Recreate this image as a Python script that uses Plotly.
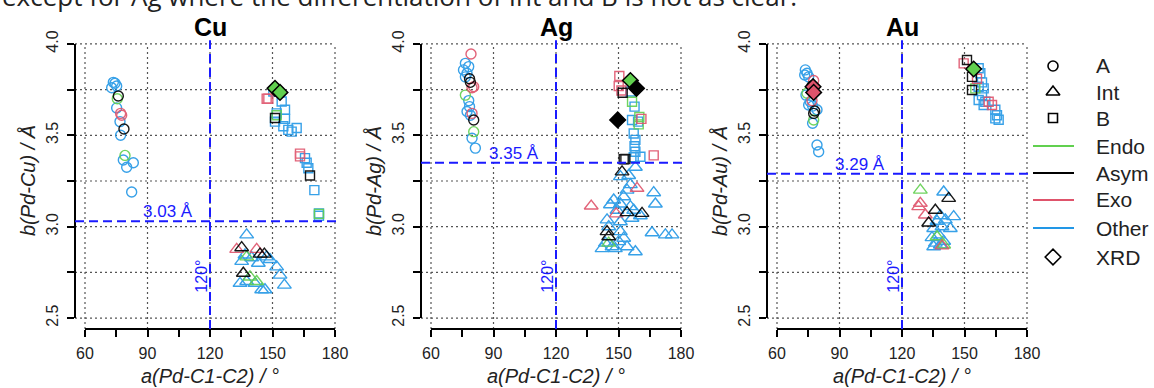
import plotly.graph_objects as go

# ---------------- data ----------------
metals = ["Cu", "Ag", "Au"]
thresholds = [3.03, 3.35, 3.29]
threshold_labels = ["3.03 Å", "3.35 Å", "3.29 Å"]
x_ticks = [60, 90, 120, 150, 180]
y_ticks = [2.5, 3.0, 3.5, 4.0]

# Cu
cu_A_x = [74.4, 73.6, 75.2, 72.8, 76.0, 75.5, 75.2, 77.1, 77.6, 76.8, 78.7, 77.1, 79.2, 78.4, 83.2, 80.0, 82.4]
cu_A_y = [3.785, 3.79, 3.77, 3.76, 3.715, 3.70, 3.65, 3.62, 3.61, 3.575, 3.535, 3.50, 3.39, 3.365, 3.35, 3.325, 3.19]
cu_A_c = ["Other", "Other", "Other", "Other", "Asym", "Endo", "Other", "Exo", "Exo", "Other", "Asym", "Other", "Endo", "Other", "Other", "Other", "Other"]

cu_Int_x = [137.6, 132.8, 135.2, 142.4, 144.0, 146.1, 136.8, 135.2, 137.6, 140.0, 143.2, 147.2, 148.8, 152.0, 153.6, 155.7, 136.0, 139.2, 134.4, 137.6, 142.4, 144.8, 146.4, 141.6]
cu_Int_y = [2.955, 2.876, 2.885, 2.876, 2.85, 2.85, 2.845, 2.81, 2.835, 2.83, 2.80, 2.835, 2.82, 2.78, 2.735, 2.68, 2.745, 2.725, 2.69, 2.70, 2.70, 2.655, 2.655, 2.69]
cu_Int_c = ["Other", "Exo", "Asym", "Exo", "Asym", "Asym", "Other", "Other", "Endo", "Other", "Other", "Other", "Other", "Other", "Other", "Other", "Asym", "Endo", "Other", "Other", "Endo", "Other", "Other", "Other"]

cu_B_x = [148.0, 147.2, 150.4, 154.4, 156.0, 152.0, 151.2, 156.0, 155.2, 159.2, 161.6, 157.6, 152.0, 151.2, 163.2, 163.2, 165.6, 166.4, 167.2, 168.0, 170.1, 172.3, 172.3, 172.3]
cu_B_y = [3.70, 3.70, 3.74, 3.685, 3.64, 3.62, 3.575, 3.59, 3.55, 3.52, 3.54, 3.53, 3.61, 3.595, 3.40, 3.385, 3.375, 3.35, 3.32, 3.28, 3.20, 3.073, 3.07, 3.06]
cu_B_c = ["Exo", "Exo", "Other", "Other", "Other", "Other", "Other", "Other", "Other", "Other", "Other", "Other", "Endo", "Asym", "Exo", "Exo", "Other", "Other", "Other", "Asym", "Other", "Other", "Endo", "Other"]

cu_XRD_x = [151.2, 153.6]
cu_XRD_y = [3.757, 3.735]
cu_XRD_c = ["Endo", "Endo"]

# Ag
ag_A_x = [79.2, 76.5, 78.1, 75.6, 77.3, 76.5, 78.5, 78.9, 80.5, 79.7, 76.5, 78.1, 78.5, 77.3, 78.9, 79.7, 80.5, 80.5, 79.7, 81.3]
ag_A_y = [3.945, 3.894, 3.876, 3.858, 3.84, 3.82, 3.81, 3.79, 3.766, 3.76, 3.72, 3.69, 3.657, 3.63, 3.61, 3.62, 3.584, 3.52, 3.484, 3.43]
ag_A_c = ["Exo", "Other", "Other", "Other", "Other", "Other", "Asym", "Asym", "Exo", "Exo", "Endo", "Other", "Other", "Other", "Other", "Exo", "Asym", "Endo", "Other", "Other"]

ag_Int_x = [158.1, 151.7, 154.9, 150.9, 155.7, 158.9, 154.1, 152.5, 166.9, 167.7, 136.9, 147.7, 146.1, 150.9, 155.7, 154.1, 157.3, 161.3, 160.5, 149.3, 148.9, 156.5, 144.5, 150.9, 166.1, 172.5, 175.7, 145.3, 144.5, 145.3, 150.9, 152.5, 143.7, 145.3, 146.9, 150.1, 154.1, 158.1, 142.1, 148.5]
ag_Int_y = [3.325, 3.30, 3.28, 3.274, 3.23, 3.21, 3.20, 3.164, 3.186, 3.124, 3.113, 3.146, 3.12, 3.124, 3.11, 3.077, 3.09, 3.073, 3.06, 3.09, 3.07, 3.046, 3.037, 3.027, 2.967, 2.955, 2.955, 3.0, 2.973, 2.945, 2.973, 2.937, 2.91, 2.91, 2.89, 2.918, 2.89, 2.863, 2.88, 2.88]
ag_Int_c = ["Other", "Asym", "Other", "Other", "Other", "Exo", "Other", "Other", "Other", "Other", "Exo", "Other", "Other", "Other", "Other", "Asym", "Other", "Asym", "Other", "Other", "Exo", "Other", "Other", "Other", "Other", "Other", "Other", "Other", "Asym", "Asym", "Other", "Other", "Other", "Endo", "Other", "Other", "Other", "Other", "Other", "Other"]

ag_B_x = [150.4, 150.1, 151.4, 152.0, 155.7, 156.5, 157.7, 160.0, 161.0, 156.5, 159.4, 159.7, 157.3, 158.1, 157.7, 158.1, 157.3, 160.5, 166.9, 152.5, 153.3]
ag_B_y = [3.825, 3.77, 3.745, 3.733, 3.74, 3.684, 3.657, 3.60, 3.59, 3.584, 3.575, 3.56, 3.51, 3.475, 3.44, 3.41, 3.38, 3.383, 3.39, 3.369, 3.37]
ag_B_c = ["Exo", "Exo", "Exo", "Asym", "Other", "Endo", "Other", "Endo", "Exo", "Other", "Other", "Endo", "Other", "Other", "Other", "Other", "Other", "Other", "Exo", "Asym", "Asym"]

ag_XRD_x = [155.7, 158.6, 149.6]
ag_XRD_y = [3.80, 3.757, 3.584]
ag_XRD_c = ["Endo", "Asym", "Asym"]

# Au
au_A_x = [73.6, 74.4, 73.3, 75.2, 77.6, 76.8, 74.4, 73.9, 76.0, 76.8, 75.2, 77.1, 78.1, 79.2, 77.6, 77.6, 77.1, 79.2, 80.0]
au_A_y = [3.858, 3.84, 3.83, 3.82, 3.80, 3.77, 3.73, 3.72, 3.684, 3.69, 3.666, 3.66, 3.633, 3.64, 3.62, 3.584, 3.566, 3.447, 3.41]
au_A_c = ["Other", "Other", "Other", "Other", "Exo", "Asym", "Endo", "Other", "Other", "Exo", "Other", "Other", "Asym", "Other", "Asym", "Endo", "Other", "Other", "Other"]

au_Int_x = [128.8, 128.8, 128.0, 131.2, 142.4, 140.0, 136.0, 132.8, 138.4, 140.8, 144.8, 136.8, 139.2, 135.2, 137.6, 134.4, 136.0, 138.4, 135.2, 140.0, 139.2, 140.0, 136.8, 143.2]
au_Int_y = [3.20, 3.128, 3.11, 3.064, 3.155, 3.19, 3.09, 3.02, 3.06, 3.037, 3.055, 3.03, 3.0, 2.99, 2.955, 2.94, 2.91, 2.90, 2.89, 2.92, 2.895, 2.90, 2.945, 2.99]
au_Int_c = ["Endo", "Exo", "Exo", "Exo", "Asym", "Other", "Asym", "Asym", "Other", "Other", "Other", "Other", "Other", "Other", "Other", "Other", "Other", "Other", "Other", "Other", "Exo", "Endo", "Endo", "Other"]

au_B_x = [151.2, 149.6, 156.8, 157.6, 153.6, 156.0, 158.4, 156.8, 155.2, 153.6, 159.2, 158.4, 156.8, 160.0, 161.6, 159.2, 163.2, 164.8, 165.6, 164.8, 166.4]
au_B_y = [3.912, 3.894, 3.867, 3.84, 3.82, 3.81, 3.79, 3.766, 3.757, 3.748, 3.757, 3.72, 3.693, 3.684, 3.684, 3.666, 3.666, 3.64, 3.61, 3.593, 3.585]
au_B_c = ["Asym", "Exo", "Other", "Other", "Asym", "Exo", "Other", "Other", "Endo", "Asym", "Other", "Other", "Other", "Other", "Exo", "Other", "Exo", "Other", "Other", "Other", "Other"]

au_XRD_x = [77.3, 77.6, 154.4]
au_XRD_y = [3.766, 3.735, 3.863]
au_XRD_c = ["Exo", "Exo", "Endo"]

legend_labels = ["A", "Int", "B", "Endo", "Asym", "Exo", "Other", "XRD"]

# ---------------- style ----------------
COLORS = {"Endo": "#61D04F", "Asym": "#000000", "Exo": "#DF536B", "Other": "#2297E6"}
CAT_ORDER = ["Other", "Endo", "Exo", "Asym"]
FONT = "Liberation Sans, Arial, Helvetica, sans-serif"
W, H = 1154, 388
panel_left = [75, 421, 767]
panel_w = 270
top_px, bot_px = 33, 329
xr = [55.2, 184.8]
yr = [2.44, 4.06]

panels = [
    {"A": (cu_A_x, cu_A_y, cu_A_c), "Int": (cu_Int_x, cu_Int_y, cu_Int_c),
     "B": (cu_B_x, cu_B_y, cu_B_c), "XRD": (cu_XRD_x, cu_XRD_y, cu_XRD_c)},
    {"A": (ag_A_x, ag_A_y, ag_A_c), "Int": (ag_Int_x, ag_Int_y, ag_Int_c),
     "B": (ag_B_x, ag_B_y, ag_B_c), "XRD": (ag_XRD_x, ag_XRD_y, ag_XRD_c)},
    {"A": (au_A_x, au_A_y, au_A_c), "Int": (au_Int_x, au_Int_y, au_Int_c),
     "B": (au_B_x, au_B_y, au_B_c), "XRD": (au_XRD_x, au_XRD_y, au_XRD_c)},
]
SYMBOLS = {"A": ("circle-open", 10), "Int": ("triangle-up-open", 12), "B": ("square-open", 9)}

fig = go.Figure()
shapes = []
annotations = []

def py(px):
    return (H - px) / H

for i, (metal, pdata) in enumerate(zip(metals, panels)):
    n = "" if i == 0 else str(i + 1)
    xa, ya = "x" + n, "y" + n
    for shape in ["A", "Int", "B"]:
        xs, ys, cs = pdata[shape]
        sym, size = SYMBOLS[shape]
        for cat in CAT_ORDER:
            px_ = [x for x, c in zip(xs, cs) if c == cat]
            py_ = [y for y, c in zip(ys, cs) if c == cat]
            if not px_:
                continue
            fig.add_trace(go.Scatter(
                x=px_, y=py_, mode="markers", xaxis=xa, yaxis=ya, showlegend=False,
                opacity=0.9,
                marker=dict(symbol=sym, size=size, color=COLORS[cat],
                            line=dict(width=1.4, color=COLORS[cat]))))
    xs, ys, cs = pdata["XRD"]
    fig.add_trace(go.Scatter(
        x=xs, y=ys, mode="markers", xaxis=xa, yaxis=ya, showlegend=False,
        marker=dict(symbol="diamond", size=12, color=[COLORS[c] for c in cs],
                    line=dict(width=1.5, color="black"))))

    dom = [panel_left[i] / W, (panel_left[i] + panel_w) / W]
    ydom = [py(bot_px), py(top_px)]
    axis_common = dict(ticks="outside", ticklen=7, tickwidth=1.5, tickcolor="black",
                       showgrid=False, zeroline=False, showline=False, automargin=False,
                       tickfont=dict(family=FONT, size=16, color="#222"))
    fig.update_layout(**{
        ("xaxis" + n): dict(domain=dom, range=xr, anchor=ya, tickvals=x_ticks,
                            ticklabelstandoff=3,
                            minor=dict(tickvals=[75, 105, 135, 165], ticks="outside",
                                       ticklen=7, tickwidth=1.5, tickcolor="black",
                                       showgrid=False),
                            **axis_common),
        ("yaxis" + n): dict(domain=ydom, range=yr, anchor=xa, tickvals=y_ticks,
                            ticktext=["2.5", "3.0", "3.5", "4.0"], tickangle=-90,
                            ticklabelstandoff=3,
                            minor=dict(tickvals=[2.75, 3.25, 3.75], ticks="outside",
                                       ticklen=7, tickwidth=1.5, tickcolor="black",
                                       showgrid=False),
                            **axis_common),
    })
    # grid (dotted)
    for gy in [2.5, 2.75, 3.0, 3.25, 3.5, 3.75, 4.0]:
        shapes.append(dict(type="line", xref=xa + " domain", yref=ya, x0=0, x1=(180 - xr[0]) / (xr[1] - xr[0]),
                           y0=gy, y1=gy, line=dict(color="#555", width=1.2, dash="2px,3px"), layer="below"))
    for gx in x_ticks:
        shapes.append(dict(type="line", xref=xa, yref=ya + " domain", x0=gx, x1=gx,
                           y0=0, y1=(4.0 - yr[0]) / (yr[1] - yr[0]),
                           line=dict(color="#555", width=1.2, dash="2px,3px"), layer="below"))
    # axis lines (R style: only between first and last tick)
    shapes.append(dict(type="line", xref=xa, yref=ya + " domain", x0=60, x1=180, y0=0, y1=0,
                       line=dict(color="black", width=2)))
    shapes.append(dict(type="line", xref=xa + " domain", yref=ya, x0=0, x1=0, y0=2.5, y1=4.0,
                       line=dict(color="black", width=2)))
    # blue dashed reference lines
    shapes.append(dict(type="line", xref=xa + " domain", yref=ya, x0=0, x1=(181 - xr[0]) / (xr[1] - xr[0]),
                       y0=thresholds[i], y1=thresholds[i],
                       line=dict(color="#1a1aff", width=2, dash="9px,5px")))
    shapes.append(dict(type="line", xref=xa, yref=ya + " domain", x0=120, x1=120,
                       y0=0, y1=(4.02 - yr[0]) / (yr[1] - yr[0]),
                       line=dict(color="#1a1aff", width=2, dash="9px,5px")))
    annotations.append(dict(x=100, y=thresholds[i], xref=xa, yref=ya, text=threshold_labels[i],
                            showarrow=False, xanchor="center", yanchor="bottom", yshift=-2,
                            font=dict(family=FONT, size=17, color="#1a1aff")))
    annotations.append(dict(x=115.5, y=2.73, xref=xa, yref=ya, text="120°", textangle=-90,
                            showarrow=False, xanchor="center", yanchor="middle",
                            font=dict(family=FONT, size=16, color="#1a1aff")))
    # titles
    cx = (panel_left[i] + panel_w / 2) / W
    annotations.append(dict(x=cx, y=py(27), xref="paper", yref="paper", text="<b>" + metal + "</b>",
                            showarrow=False, xanchor="center", yanchor="middle",
                            font=dict(family=FONT, size=25, color="black")))
    annotations.append(dict(x=cx, y=py(376), xref="paper", yref="paper",
                            text="<i>a(Pd-C1-C2) / °</i>", showarrow=False,
                            xanchor="center", yanchor="middle",
                            font=dict(family=FONT, size=20, color="#222")))
    annotations.append(dict(x=(panel_left[i] - 47) / W, y=py(181), xref="paper", yref="paper",
                            text="<i>b(Pd-" + metal + ") / Å</i>", textangle=-90, showarrow=False,
                            xanchor="center", yanchor="middle",
                            font=dict(family=FONT, size=20, color="#222")))

# ---------------- legend (drawn manually, pixel overlay axes) ----------------
fig.update_layout(
    xaxis4=dict(domain=[0, 1], range=[0, W], visible=False, anchor="y4", fixedrange=True),
    yaxis4=dict(domain=[0, 1], range=[H, 0], visible=False, anchor="x4", fixedrange=True),
)
leg_y = [66, 92, 118, 146, 173, 200, 228, 257]
leg_sym = {"A": ("circle-open", 10), "Int": ("triangle-up-open", 12),
           "B": ("square-open", 9), "XRD": ("diamond-open", 12)}
for lab, yy in zip(legend_labels, leg_y):
    if lab in leg_sym:
        s, sz = leg_sym[lab]
        fig.add_trace(go.Scatter(x=[1053], y=[yy], xaxis="x4", yaxis="y4", mode="markers",
                                 showlegend=False, hoverinfo="skip",
                                 marker=dict(symbol=s, size=sz, color="black",
                                             line=dict(width=1.6, color="black"))))
    else:
        fig.add_trace(go.Scatter(x=[1033, 1074], y=[yy, yy], xaxis="x4", yaxis="y4", mode="lines",
                                 showlegend=False, hoverinfo="skip",
                                 line=dict(color=COLORS[lab], width=1.8)))
    annotations.append(dict(x=1094 / W, y=py(yy), xref="paper", yref="paper", text=lab,
                            showarrow=False, xanchor="left", yanchor="middle",
                            font=dict(family=FONT, size=21, color="#222")))

# clipped running text at the very top (part of the source page)
annotations.append(dict(x=0, y=py(-4), xref="paper", yref="paper",
                        text="except for Ag where the differentiation of Int and B is not as clear.",
                        showarrow=False, xanchor="left", yanchor="middle",
                        font=dict(family="Open Sans, sans-serif", size=26, color="#222")))

fig.update_layout(width=W, height=H, margin=dict(l=0, r=0, t=0, b=0),
                  paper_bgcolor="white", plot_bgcolor="rgba(0,0,0,0)",
                  shapes=shapes, annotations=annotations, showlegend=False)
fig.write_html("out.html", config={"displayModeBar": False},
               post_script="document.body.style.margin='0';document.body.style.overflow='hidden';")
